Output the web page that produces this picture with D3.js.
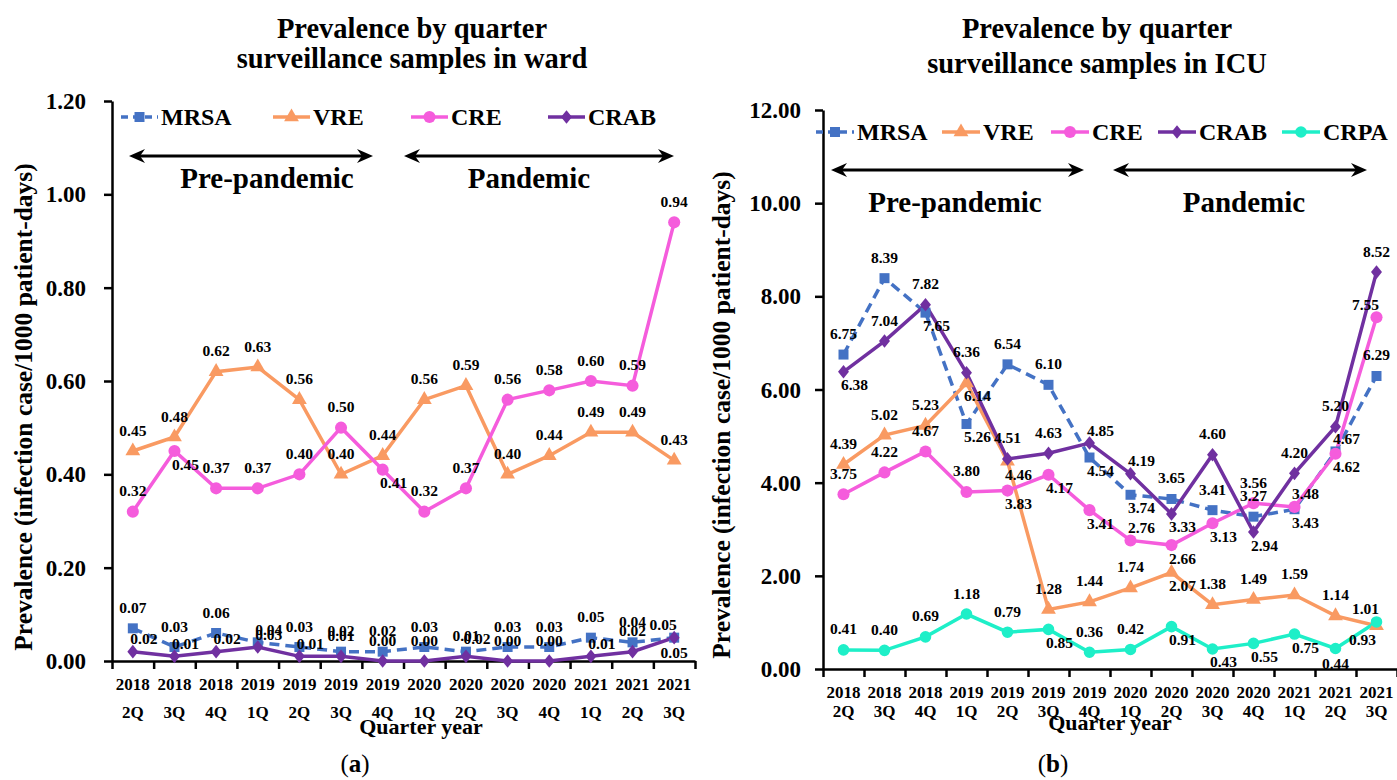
<!DOCTYPE html>
<html><head><meta charset="utf-8">
<script src="https://cdn.jsdelivr.net/npm/d3@7"></script>
<style>
body{margin:0;background:#fff;}
svg text{font-family:"Liberation Serif","Times New Roman",serif;font-weight:bold;fill:#000;}
</style></head><body>
<svg id="c" width="1397" height="780"></svg>
<script>
// ---------- DATA ----------
const quarters = ["2018 2Q","2018 3Q","2018 4Q","2019 1Q","2019 2Q","2019 3Q","2019 4Q",
                  "2020 1Q","2020 2Q","2020 3Q","2020 4Q","2021 1Q","2021 2Q","2021 3Q"];
const seriesNamesWard = ["MRSA","VRE","CRE","CRAB"];
const seriesNamesICU  = ["MRSA","VRE","CRE","CRAB","CRPA"];

const wardMRSA = [0.07,0.03,0.06,0.04,0.03,0.02,0.02,0.03,0.02,0.03,0.03,0.05,0.04,0.05];
const wardVRE  = [0.45,0.48,0.62,0.63,0.56,0.40,0.44,0.56,0.59,0.40,0.44,0.49,0.49,0.43];
const wardCRE  = [0.32,0.45,0.37,0.37,0.40,0.50,0.41,0.32,0.37,0.56,0.58,0.60,0.59,0.94];
const wardCRAB = [0.02,0.01,0.02,0.03,0.01,0.01,0.00,0.00,0.01,0.00,0.00,0.01,0.02,0.05];

const icuMRSA = [6.75,8.39,7.65,5.26,6.54,6.10,4.54,3.74,3.65,3.41,3.27,3.43,4.67,6.29];
const icuVRE  = [4.39,5.02,5.23,6.14,4.46,1.28,1.44,1.74,2.07,1.38,1.49,1.59,1.14,0.93];
const icuCRE  = [3.75,4.22,4.67,3.80,3.83,4.17,3.41,2.76,2.66,3.13,3.56,3.48,4.62,7.55];
const icuCRAB = [6.38,7.04,7.82,6.36,4.51,4.63,4.85,4.19,3.33,4.60,2.94,4.20,5.20,8.52];
const icuCRPA = [0.41,0.40,0.69,1.18,0.79,0.85,0.36,0.42,0.91,0.43,0.55,0.75,0.44,1.01];

const wardTicks = [0,0.2,0.4,0.6,0.8,1.0,1.2];
const icuTicks  = [0,2,4,6,8,10,12];

// label placement codes (t=top, b=bottom, tr/br/tl/bl=corners)
const wardPos = {
  MRSA:["t","t","t","tr","t","t","t","t","tr","t","t","t","t","tl"],
  VRE: ["t","t","t","t","t","t","t","t","t","t","t","t","t","t"],
  CRE: ["t","br","t","t","t","t","br","t","t","t","t","t","t","t"],
  CRAB:["tr","tr","tr","tr","tr","t","t","t","t","t","t","tr","t","b"]
};
const icuPos = {
  MRSA:["t","t","br","br","t","t","br","br","t","t","t","br","tr","t"],
  VRE: ["t","t","t","br","br","t","t","t","br","t","t","t","t","bl"],
  CRE: ["t","t","t","t","br","br","br","tr","br","br","t","tr","br","tl"],
  CRAB:["br","t","t","t","t","t","tr","tr","br","t","br","t","t","t"],
  CRPA:["t","t","t","t","t","br","t","t","br","br","br","br","b","tl"]
};

// ---------- STYLE ----------
const colors = {MRSA:"#4472C4",VRE:"#F99A62",CRE:"#F55CDC",CRAB:"#7030A0",CRPA:"#1EEFC8"};
const offsets = {t:[0,-21],b:[0,15],tr:[11,-13],br:[11,13],tl:[-11,-13],bl:[-14,14]};
const diamond = {draw(ctx,size){const h=Math.sqrt(size)*0.62,w=Math.sqrt(size)*0.5;
  ctx.moveTo(0,-h);ctx.lineTo(w,0);ctx.lineTo(0,h);ctx.lineTo(-w,0);ctx.closePath();}};
const markers = {MRSA:[d3.symbolSquare,100],VRE:[d3.symbolTriangle,95],CRE:[d3.symbolCircle,115],
                 CRAB:[diamond,120],CRPA:[d3.symbolCircle,105]};

const svg = d3.select("#c");

function arrow(g,x1,x2,y){
  g.append("line").attr("x1",x1+8).attr("x2",x2-8).attr("y1",y).attr("y2",y)
   .attr("stroke","#000").attr("stroke-width",3);
  g.append("path").attr("d",`M${x1},${y}L${x1+16},${y-7}L${x1+11},${y}L${x1+16},${y+7}Z`).attr("fill","#000");
  g.append("path").attr("d",`M${x2},${y}L${x2-16},${y-7}L${x2-11},${y}L${x2-16},${y+7}Z`).attr("fill","#000");
}

function drawChart(cfg){
  const g = svg.append("g");
  const x = d3.scaleBand().domain(quarters).range([cfg.x0,cfg.x1]).padding(0);
  const cx = d => x(d)+x.bandwidth()/2;
  const y = d3.scaleLinear().domain([0,cfg.ymax]).range([cfg.yb,cfg.yt]);

  // titles
  cfg.title.forEach((t,i)=>g.append("text").attr("x",cfg.tx).attr("y",cfg.ty[i])
     .attr("text-anchor","middle").style("font-size","28.5px").text(t));

  // x boundary ticks + axis line
  const xb = d3.scaleLinear().domain([0,quarters.length]).range([cfg.x0,cfg.x1]);
  const ax = g.append("g").attr("transform",`translate(0,${cfg.yb})`)
    .call(d3.axisBottom(xb).tickValues(d3.range(quarters.length+1)).tickFormat("").tickSize(8).tickSizeOuter(0));
  ax.selectAll("path,line").attr("stroke","#000").attr("stroke-width",2.5);

  // x labels
  const xl = g.append("g").attr("transform",`translate(0,${cfg.yb})`)
    .call(d3.axisBottom(x).tickSize(0).tickFormat(""));
  xl.select(".domain").remove();
  xl.selectAll(".tick text").each(function(d){
    const p = d.split(" ");
    const t = d3.select(this).attr("y",null).attr("dy",null).style("font-size","17px");
    t.append("tspan").attr("x",0).attr("y",cfg.xl1).text(p[0]);
    t.append("tspan").attr("x",0).attr("y",cfg.xl2).text(p[1]);
  });
  g.append("text").attr("x",cfg.xtx).attr("y",cfg.xty).attr("text-anchor","middle")
   .style("font-size","22px").text("Quarter year");

  // y axis
  const ay = g.append("g").attr("transform",`translate(${cfg.x0},0)`)
    .call(d3.axisLeft(y).tickValues(cfg.ticks).tickFormat(d3.format(".2f")).tickSize(8).tickPadding(cfg.tp).tickSizeOuter(0));
  ay.selectAll("path,line").attr("stroke","#000").attr("stroke-width",2.5);
  ay.selectAll("text").style("font-size","23px").attr("dy","0.33em");
  g.append("text").attr("transform",`translate(${cfg.ytx},${cfg.yty}) rotate(-90)`)
   .attr("text-anchor","middle").attr("dominant-baseline","central").style("font-size","25.5px")
   .text("Prevalence (infection case/1000 patient-days)");

  // arrows + period labels
  arrow(g,cfg.a1[0],cfg.a1[1],cfg.ay);
  arrow(g,cfg.a2[0],cfg.a2[1],cfg.ay);
  g.append("text").attr("x",cfg.p1).attr("y",cfg.py).attr("text-anchor","middle")
   .attr("dominant-baseline","central").style("font-size","29px").text("Pre-pandemic");
  g.append("text").attr("x",cfg.p2).attr("y",cfg.py).attr("text-anchor","middle")
   .attr("dominant-baseline","central").style("font-size","29px").text("Pandemic");

  // series
  const line = d3.line().x((v,i)=>cx(quarters[i])).y(v=>y(v));
  cfg.series.forEach(s=>{
    g.append("path").datum(s.values).attr("d",line).attr("fill","none")
     .attr("stroke",colors[s.name]).attr("stroke-width",3.5)
     .attr("stroke-dasharray",s.name==="MRSA"?"10,6":null);
  });
  cfg.series.forEach(s=>{
    const [type,size] = markers[s.name];
    g.selectAll(null).data(s.values).join("path")
     .attr("transform",(v,i)=>`translate(${cx(quarters[i])},${y(v)})`)
     .attr("d",d3.symbol().type(type).size(size)).attr("fill",colors[s.name]);
  });
  cfg.series.forEach(s=>{
    g.selectAll(null).data(s.values).join("text")
     .attr("x",(v,i)=>cx(quarters[i])+offsets[s.pos[i]][0])
     .attr("y",(v,i)=>y(v)+offsets[s.pos[i]][1])
     .attr("text-anchor","middle").attr("dominant-baseline","central")
     .style("font-size","15.5px").text(v=>v.toFixed(2));
  });

  // legend
  cfg.series.forEach((s,i)=>{
    const lx = cfg.lx[i], ly = cfg.ly, L = cfg.llen;
    g.append("line").attr("x1",lx).attr("x2",lx+L).attr("y1",ly).attr("y2",ly)
     .attr("stroke",colors[s.name]).attr("stroke-width",3.5)
     .attr("stroke-dasharray",s.name==="MRSA"?"7,5":null);
    const [type,size] = markers[s.name];
    g.append("path").attr("transform",`translate(${lx+L/2},${ly})`)
     .attr("d",d3.symbol().type(type).size(size)).attr("fill",colors[s.name]);
    g.append("text").attr("x",lx+L+3).attr("y",ly).attr("dominant-baseline","central")
     .style("font-size","24px").text(s.name);
  });

  // panel label
  const pl = g.append("text").attr("x",cfg.plx).attr("y",cfg.ply).attr("text-anchor","middle")
    .attr("dominant-baseline","central").style("font-size","25px");
  pl.append("tspan").style("font-weight","normal").text("(");
  pl.append("tspan").text(cfg.plabel);
  pl.append("tspan").style("font-weight","normal").text(")");
}

drawChart({
  x0:112, x1:695, yb:661, yt:101, ymax:1.2, ticks:wardTicks, tp:18,
  title:["Prevalence by quarter","surveillance samples in ward"], tx:412, ty:[38,68],
  xl1:29, xl2:57, xtx:421, xty:734,
  ytx:23, yty:407,
  a1:[129,373], a2:[404,674], ay:156, p1:267, p2:529, py:178,
  lx:[121,273,411,548], ly:117, llen:37,
  plx:355, ply:763, plabel:"a",
  series: seriesNamesWard.map(n=>({name:n, values:{MRSA:wardMRSA,VRE:wardVRE,CRE:wardCRE,CRAB:wardCRAB}[n], pos:wardPos[n]}))
});

drawChart({
  x0:823, x1:1397, yb:669, yt:110, ymax:12, ticks:icuTicks, tp:14,
  title:["Prevalence by quarter","surveillance samples in ICU"], tx:1097, ty:[38,73],
  xl1:29, xl2:48, xtx:1110, xty:730,
  ytx:721, yty:415,
  a1:[831,1084], a2:[1113,1367], ay:170, p1:955, p2:1244, py:202,
  lx:[816,942,1051,1158,1282], ly:132, llen:38,
  plx:1053, ply:763, plabel:"b",
  series: seriesNamesICU.map(n=>({name:n, values:{MRSA:icuMRSA,VRE:icuVRE,CRE:icuCRE,CRAB:icuCRAB,CRPA:icuCRPA}[n], pos:icuPos[n]}))
});
</script>
</body></html>
